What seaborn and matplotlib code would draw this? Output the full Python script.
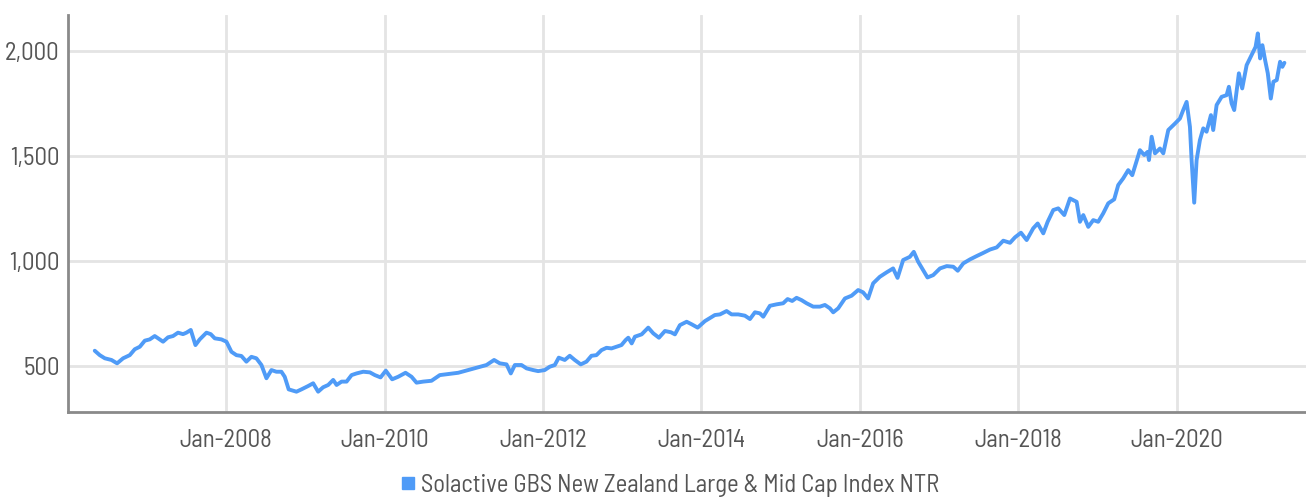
import matplotlib
matplotlib.use("Agg")
import matplotlib.pyplot as plt
import matplotlib.dates as mdates
from matplotlib.font_manager import fontManager
from matplotlib.ticker import FuncFormatter, FixedLocator
from matplotlib.lines import Line2D
import pandas as pd
import seaborn as sns

# Observation times (decimal years) and index level (NTR)
years = [
    2006.339, 2006.402, 2006.466, 2006.550, 2006.621, 2006.697, 2006.781, 2006.844,
    2006.908, 2006.971, 2007.034, 2007.097, 2007.160, 2007.202, 2007.265, 2007.328,
    2007.391, 2007.454, 2007.497, 2007.552, 2007.611, 2007.665, 2007.750, 2007.804,
    2007.855, 2007.939, 2008.003, 2008.066, 2008.129, 2008.192, 2008.255, 2008.318,
    2008.381, 2008.445, 2008.508, 2008.571, 2008.634, 2008.697, 2008.739, 2008.789,
    2008.887, 2008.950, 2009.033, 2009.096, 2009.159, 2009.222, 2009.286, 2009.349,
    2009.392, 2009.455, 2009.518, 2009.581, 2009.644, 2009.728, 2009.812, 2009.875,
    2009.947, 2010.014, 2010.094, 2010.170, 2010.263, 2010.339, 2010.402, 2010.486,
    2010.591, 2010.696, 2010.801, 2010.928, 2011.054, 2011.180, 2011.286, 2011.382,
    2011.454, 2011.539, 2011.593, 2011.644, 2011.728, 2011.792, 2011.875, 2011.938,
    2012.022, 2012.086, 2012.149, 2012.199, 2012.275, 2012.338, 2012.401, 2012.477,
    2012.549, 2012.612, 2012.675, 2012.739, 2012.802, 2012.865, 2012.928, 2012.991,
    2013.042, 2013.075, 2013.118, 2013.159, 2013.244, 2013.327, 2013.390, 2013.462,
    2013.538, 2013.614, 2013.664, 2013.727, 2013.812, 2013.875, 2013.951, 2014.043,
    2014.169, 2014.233, 2014.317, 2014.380, 2014.464, 2014.548, 2014.612, 2014.675,
    2014.738, 2014.780, 2014.864, 2014.949, 2015.032, 2015.088, 2015.146, 2015.201,
    2015.264, 2015.328, 2015.411, 2015.496, 2015.559, 2015.622, 2015.664, 2015.727,
    2015.812, 2015.896, 2015.979, 2016.042, 2016.105, 2016.169, 2016.253, 2016.338,
    2016.421, 2016.477, 2016.548, 2016.632, 2016.682, 2016.737, 2016.788, 2016.855,
    2016.927, 2017.011, 2017.096, 2017.179, 2017.235, 2017.305, 2017.390, 2017.475,
    2017.558, 2017.643, 2017.727, 2017.810, 2017.895, 2017.958, 2018.034, 2018.106,
    2018.189, 2018.245, 2018.316, 2018.371, 2018.442, 2018.505, 2018.581, 2018.653,
    2018.737, 2018.779, 2018.821, 2018.884, 2018.947, 2019.010, 2019.073, 2019.137,
    2019.212, 2019.263, 2019.326, 2019.389, 2019.440, 2019.537, 2019.592, 2019.634,
    2019.651, 2019.685, 2019.727, 2019.790, 2019.832, 2019.895, 2019.980, 2020.043,
    2020.084, 2020.127, 2020.169, 2020.190, 2020.223, 2020.253, 2020.295, 2020.337,
    2020.379, 2020.434, 2020.463, 2020.506, 2020.569, 2020.632, 2020.661, 2020.695,
    2020.728, 2020.787, 2020.829, 2020.885, 2020.948, 2020.998, 2021.024, 2021.053,
    2021.082, 2021.116, 2021.150, 2021.188, 2021.221, 2021.263, 2021.305, 2021.334,
    2021.360,
]
values = [
    571, 550, 535, 527, 511, 535, 550, 578,
    590, 619, 625, 641, 625, 614, 635, 641,
    657, 650, 657, 670, 598, 625, 657, 650,
    630, 625, 614, 566, 550, 546, 519, 542,
    535, 503, 440, 479, 471, 471, 447, 387,
    376, 387, 403, 416, 376, 397, 408, 432,
    408, 424, 424, 455, 463, 471, 468, 455,
    444, 476, 435, 447, 466, 447, 419, 424,
    428, 455, 460, 466, 479, 492, 503, 527,
    511, 506, 463, 503, 503, 487, 479, 474,
    479, 495, 503, 538, 527, 547, 527, 506,
    519, 547, 550, 574, 585, 582, 590, 598,
    622, 633, 606, 638, 649, 681, 654, 633,
    665, 659, 649, 693, 709, 697, 681, 712,
    741, 744, 760, 744, 744, 738, 722, 754,
    749, 733, 785, 792, 797, 817, 808, 823,
    812, 797, 781, 781, 789, 773, 754, 773,
    820, 833, 860, 849, 820, 892, 923, 944,
    963, 918, 1003, 1018, 1042, 995, 963, 920,
    931, 963, 974, 971, 952, 987, 1006, 1022,
    1037, 1053, 1063, 1095, 1085, 1111, 1133, 1098,
    1154, 1177, 1130, 1185, 1241, 1249, 1217, 1296,
    1280, 1185, 1217, 1161, 1193, 1185, 1225, 1273,
    1292, 1360, 1392, 1431, 1407, 1526, 1503, 1518,
    1479, 1590, 1511, 1534, 1511, 1622, 1653, 1677,
    1717, 1756, 1637, 1479, 1276, 1479, 1574, 1630,
    1614, 1693, 1622, 1741, 1780, 1788, 1828, 1749,
    1717, 1892, 1820, 1931, 1979, 2018, 2082, 1963,
    2026, 1955, 1892, 1772, 1852, 1860, 1947, 1923,
    1942,
]
series_name = "Solactive GBS New Zealand Large & Mid Cap Index NTR"
y_ticks = [500, 1000, 1500, 2000]
x_tick_years = [2008, 2010, 2012, 2014, 2016, 2018, 2020]


def to_timestamp(y):
    year = int(y)
    return pd.Timestamp(year=year, month=1, day=1) + pd.Timedelta(days=(y - year) * 365.25)


df = pd.DataFrame({"date": [to_timestamp(y) for y in years], "value": values})

sns.set_style("white")
installed = {f.name for f in fontManager.ttflist}
candidates = ["Barlow Semi Condensed", "Barlow Condensed", "Roboto Condensed",
              "Open Sans", "DejaVu Sans"]
plt.rcParams["font.family"] = [f for f in candidates if f in installed]
plt.rcParams["font.stretch"] = "condensed"

line_color = "#4f9bf7"
grid_color = "#e4e4e4"
text_color = "#555555"
fsize = 17.8

fig = plt.figure(figsize=(13.06, 4.98), dpi=100)
ax = fig.add_axes([0.052, 0.173, 0.948, 0.797])

sns.lineplot(data=df, x="date", y="value", ax=ax, color=line_color,
             linewidth=2.8, legend=False)

ax.set_xlim(pd.Timestamp("2006-01-01"), pd.Timestamp("2021-08-20"))
ax.set_ylim(280, 2170)

ax.yaxis.set_major_locator(FixedLocator(y_ticks))
ax.yaxis.set_major_formatter(FuncFormatter(lambda v, p: f"{int(v):,}"))
ax.xaxis.set_major_locator(FixedLocator(
    [mdates.date2num(pd.Timestamp(f"{y}-01-01")) for y in x_tick_years]))
ax.xaxis.set_major_formatter(mdates.DateFormatter("Jan-%Y"))

ax.grid(True, color=grid_color, linewidth=2)
ax.set_axisbelow(True)
ax.set_xlabel("")
ax.set_ylabel("")
ax.tick_params(axis="both", length=0, labelsize=fsize, colors=text_color)
ax.tick_params(axis="x", pad=12)
ax.tick_params(axis="y", pad=6)

for side in ["top", "right"]:
    ax.spines[side].set_visible(False)
for side in ["left", "bottom"]:
    ax.spines[side].set_color("#8a8a8a")
    ax.spines[side].set_linewidth(2)

handle = Line2D([], [], marker="s", linestyle="none", markersize=8.5,
                markerfacecolor=line_color, markeredgecolor=line_color)
fig.legend([handle], [series_name], loc="center",
           bbox_to_anchor=(0.511, 0.026), frameon=False, fontsize=fsize,
           handletextpad=0.0, handlelength=1.0, borderpad=0.0,
           labelcolor=text_color)

fig.savefig("out.png", dpi=100)
